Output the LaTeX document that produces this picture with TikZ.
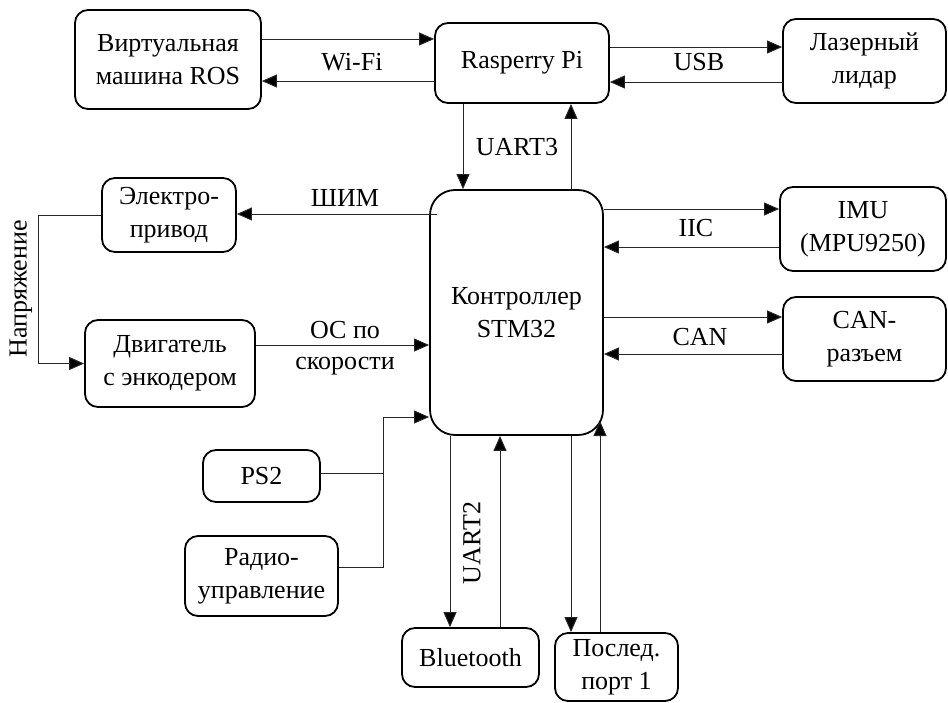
\documentclass[tikz,border=0pt]{standalone}
\usepackage{fontspec}
\setmainfont{Liberation Serif}
\usetikzlibrary{arrows.meta}
\begin{document}
\begin{tikzpicture}[x=1pt,y=-1pt,
  font=\fontsize{26}{33}\selectfont,
  box/.style={draw=black,line width=1.8pt,rounded corners=13pt,align=center,inner sep=0pt},
  arr/.style={draw=black!85,line width=1pt,-{Triangle[length=15pt,width=13pt,fill=black]}},
  ln/.style={draw=black!85,line width=1pt},
  lbl/.style={inner sep=0pt,align=center}]
\useasboundingbox (0,0) rectangle (948,702);
% nodes
\node[box,minimum width=186pt,minimum height=99pt] (vm) at (168,59.5) {Виртуальная\\машина ROS};
\node[box,minimum width=174pt,minimum height=80pt] (rpi) at (522,63) {Rasperry Pi};
\node[box,minimum width=163pt,minimum height=84pt] (lidar) at (864.5,61) {Лазерный\\лидар};
\node[box,minimum width=134pt,minimum height=74pt] (elec) at (169,215) {Электро-\\привод};
\node[box,minimum width=170pt,minimum height=87pt] (eng) at (170,363.5) {Двигатель\\с энкодером};
\node[box,rounded corners=25pt,minimum width=173pt,minimum height=245pt] (stm) at (516.5,312.5) {Контроллер\\STM32};
\node[box,minimum width=166pt,minimum height=84pt] (imu) at (863,229) {IMU\\(MPU9250)};
\node[box,minimum width=163pt,minimum height=84pt] (can) at (864.5,339) {CAN-\\разъем};
\node[box,minimum width=117pt,minimum height=52pt] (ps2) at (261.5,476) {PS2};
\node[box,minimum width=153pt,minimum height=80pt] (radio) at (261.5,576) {Радио-\\управление};
\node[box,minimum width=137pt,minimum height=59pt] (bt) at (470.5,657.5) {Bluetooth};
\node[box,minimum width=123pt,minimum height=68pt] (port) at (616.5,667) {Послед.\\порт 1};
\coordinate (stmcorner) at (600,421);
% connectors
\draw[arr] (vm.east |- 0,39) -- (rpi.west |- 0,39);
\draw[arr] (rpi.west |- 0,81) -- (vm.east |- 0,81);
\node[lbl] (wifi) at (352,62) {Wi-Fi};
\draw[arr] (rpi.east |- 0,47) -- (lidar.west |- 0,47);
\draw[arr] (lidar.west |- 0,82) -- (rpi.east |- 0,82);
\node[lbl] (usb) at (699,62) {USB};
\draw[arr] (rpi.south -| 463,0) -- (stm.north -| 463,0);
\draw[arr] (stm.north -| 571,0) -- (rpi.south -| 571,0);
\node[lbl] (uart3) at (517,147) {UART3};
\draw[arr] (437,214) -- (elec.east |- 0,214);
\node[lbl] (pwm) at (345,198) {ШИМ};
\draw[arr] (elec.west) -- ++(-63,0) |- (eng.west);
\node[lbl,rotate=90] (volt) at (21,289) {Напряжение};
\draw[arr] (eng.east |- 0,345) -- (stm.west |- 0,345);
\node[lbl,font=\fontsize{26}{31}\selectfont] (fb) at (345,348) {ОС по\\скорости};
\draw[ln] (ps2.east |- 0,473) -- (383,473);
\draw[arr] (radio.east |- 0,567) -| (383,417) -- (stm.west |- 0,417);
\draw[arr] (stm.east |- 0,209) -- (imu.west |- 0,209);
\draw[arr] (imu.west |- 0,247) -- (stm.east |- 0,247);
\node[lbl] (iic) at (696,228) {IIC};
\draw[arr] (stm.east |- 0,317) -- (can.west |- 0,317);
\draw[arr] (can.west |- 0,354) -- (stm.east |- 0,354);
\node[lbl] (canl) at (700,337) {CAN};
\draw[arr] (stm.south -| 450,0) -- (bt.north -| 450,0);
\draw[arr] (bt.north -| 500,0) -- (stm.south -| 500,0);
\node[lbl,rotate=90] (uart2) at (472,543) {UART2};
\draw[arr] (stm.south -| 571,0) -- (port.north -| 571,0);
\draw[arr] (port.north -| 600,0) -- (stmcorner);
\end{tikzpicture}
\end{document}
